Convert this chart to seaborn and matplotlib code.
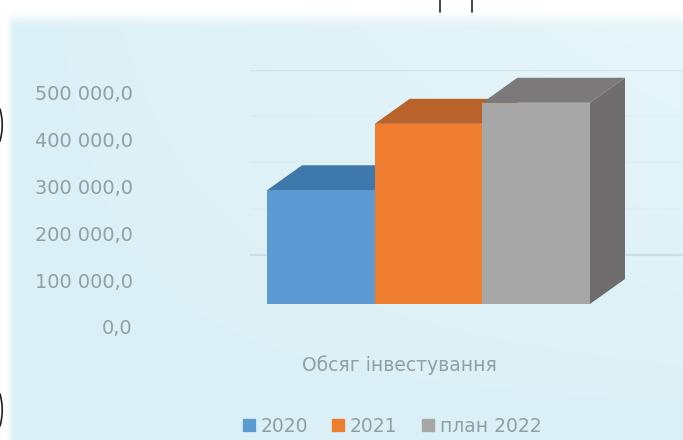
import numpy as np
import pandas as pd
import matplotlib
matplotlib.use("Agg")
import matplotlib.pyplot as plt
from matplotlib.patches import Rectangle
import seaborn as sns

# Investment volume by year
series_names = ["2020", "2021", "план 2022"]
series_values = [243000, 385000, 430000]
category_label = "Обсяг інвестування"
tick_values = [0, 100000, 200000, 300000, 400000, 500000]
tick_labels = ["0,0", "100 000,0", "200 000,0", "300 000,0", "400 000,0", "500 000,0"]

front_colors = ["#5b9ad3", "#ee7d30", "#a6a7a6"]
top_colors = ["#3f78ab", "#b9622a", "#7b7979"]
side_colors = ["#3f6f9c", "#a85522", "#6e6c6d"]
text_color = "#8f9fa4"

W, H = 683, 440
PX_PER_100K = 46.8
sns.set_theme(style="white")
plt.rcParams["font.family"] = ["DejaVu Sans"]

fig = plt.figure(figsize=(W / 100, H / 100), dpi=100, facecolor="white")


def axes_px(left, right, top, bottom, **kw):
    return fig.add_axes([left / W, (H - bottom) / H, (right - left) / W, (bottom - top) / H], **kw)


# Pale blue panel with soft white margins along the top and left
bg = axes_px(0, W, 0, H)
yy, xx = np.mgrid[0:1:110j, 0:1:170j]
base = np.array([219, 240, 246]) + (xx * (1 - yy))[..., None] * np.array([12, 6, 3])
fade = np.clip((yy * H - 10) / 14, 0, 1) * np.clip((xx * W - 4) / 8, 0, 1)
panel = fade[..., None] * base + (1 - fade[..., None]) * 255
bg.imshow(panel / 255, extent=(0, W, H, 0), aspect="auto", interpolation="bilinear")
bg.set_xlim(0, W)
bg.set_ylim(H, 0)
bg.axis("off")

# Back-wall gridlines
wall = axes_px(250, W, 70, 301)
wall.set_ylim(0, 500000)
wall.set_xlim(0, 1)
wall.patch.set_alpha(0)
wall.axis("off")
for v, a in zip(tick_values[1:], [0.6, 0.1, 0.1, 0.1, 0.5]):
    wall.axhline(v, color="#c4d3d6", lw=1.6, alpha=a)

# Value axis, set lower than the bar base as on a perspective chart
val = axes_px(137, 260, 327 - 5 * PX_PER_100K, 327)
val.patch.set_alpha(0)
val.set_ylim(0, 500000)
val.set_xticks([])
val.set_yticks(tick_values, tick_labels)
val.tick_params(axis="y", length=0, pad=3, labelsize=13.9, labelcolor=text_color)
sns.despine(ax=val, left=True, bottom=True)

# Front faces of the columns
ax = axes_px(267, 590, 304 - 5 * PX_PER_100K, 304)
ax.patch.set_alpha(0)
data = pd.DataFrame({"series": series_names, "value": series_values})
sns.barplot(data=data, x="series", y="value", hue="series", palette=front_colors,
            width=1.0, dodge=False, legend=False, saturation=1, ax=ax, zorder=3)
ax.set_xlim(-0.5, 2.5)
ax.set_ylim(0, 500000)
ax.axis("off")

# Top and side faces derived from each front rectangle
dx = 35 / (323 / 3)
dy = 25 / PX_PER_100K * 100000
bars = sorted(ax.patches, key=lambda p: p.get_x())
for bar, tc, sc in zip(bars, top_colors, side_colors):
    x0, x1, h = bar.get_x(), bar.get_x() + bar.get_width(), bar.get_height()
    bar.set_edgecolor("none")
    ax.fill([x1, x1 + dx, x1 + dx, x1], [0, dy, h + dy, h], color=sc, lw=0, clip_on=False, zorder=1)
    ax.fill([x0, x1, x1 + dx, x0 + dx], [h, h, h + dy, h + dy], color=tc, lw=0, clip_on=False, zorder=2)

# Category caption and legend
fig.text(399 / W, 1 - 365 / H, category_label, ha="center", va="center",
         fontsize=13.5, color=text_color)
handles = [Rectangle((0, 0), 1, 1, color=c) for c in front_colors]
fig.legend(handles, series_names, loc="center", bbox_to_anchor=(392 / W, 1 - 426 / H), ncol=3,
           frameon=False, fontsize=13.5, labelcolor=text_color, handlelength=0.65,
           handleheight=0.65, handletextpad=0.3, columnspacing=1.3)

# Stray strokes along the image edges
for x in (440, 472):
    fig.add_artist(plt.Line2D([x / W, x / W], [1, 1 - 12 / H], color="#222222", lw=1.2))
for yc in (125, 410):
    t = np.linspace(-1, 1, 20)
    fig.add_artist(plt.Line2D((2.2 * (1 - t**2)) / W, 1 - (yc + 16 * t) / H, color="#222222", lw=1.2))

fig.savefig("out.png", dpi=100)
